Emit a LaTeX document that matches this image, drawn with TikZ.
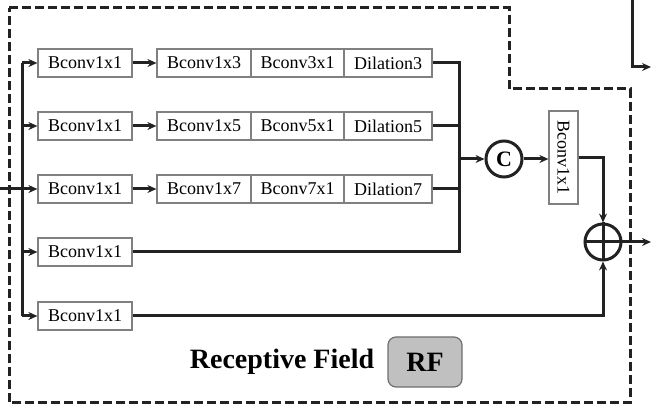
\documentclass[tikz,border=0pt]{standalone}
\usepackage{fontspec}
\setmainfont{Liberation Serif}
\usetikzlibrary{arrows.meta}
\definecolor{ink}{HTML}{222222}
\definecolor{boxline}{HTML}{808080}
\definecolor{rfgray}{HTML}{C0C0C0}
\definecolor{rfline}{HTML}{6E6E6E}
\begin{document}
\begin{tikzpicture}[x=1pt,y=-1pt,
  conv/.style={draw=boxline,line width=1.2pt,fill=white,minimum height=28pt,inner sep=0pt,font=\fontsize{18}{20}\selectfont},
  wire/.style={draw=ink,line width=3pt},
  tip/.style={-{Stealth[length=9pt,width=8pt,inset=3pt]}},
  arr/.style={wire,tip},
  opnode/.style={circle,draw=ink,line width=3pt,minimum size=36pt,inner sep=0pt},
  frame/.style={draw=ink,line width=3pt,dash pattern=on 9pt off 4pt}
]
\useasboundingbox (0,0) rectangle (651,411);
% frame
\draw[frame] (9,8) -- (509,8) -- (509,89) -- (630,89) -- (630,403) -- (9,403) -- cycle;
% boxes
\foreach \r/\y in {1/63,2/126,3/189,4/252,5/316}{
  \node[conv,minimum width=94pt] (A\r) at (85,\y) {Bconv1x1};
}
\foreach \r/\y/\k in {1/63/3,2/126/5,3/189/7}{
  \node[conv,minimum width=94pt] (B\r) at (204,\y) {Bconv1x\k};
  \node[conv,minimum width=93pt] (C\r) at (297.5,\y) {Bconv\k x1};
  \node[conv,minimum width=88pt] (D\r) at (388,\y) {Dilation\k};
}
\node[opnode,font=\fontsize{22}{24}\selectfont\bfseries] (cat) at (504,159) {C};
\node[conv,minimum width=93pt,minimum height=29pt,rotate=-90] (V) at (563.5,157.5) {Bconv1x1};
\node[opnode] (plus) at (603,242) {};
\draw[ink,line width=3pt] (plus.north) -- (plus.south) (plus.west) -- (plus.east);
% coordinates
\coordinate (in) at (0,189);
\coordinate (t1) at (22,63);
\coordinate (t3) at (22,189);
\coordinate (t5) at (22,316);
\coordinate (m1) at (459,63);
\coordinate (mc) at (459,159);
\coordinate (vr) at (603,157.5);
\coordinate (br) at (603,316);
\coordinate (out) at (651,242);
\coordinate (topin) at (632,0);
\coordinate (topc) at (632,67);
\coordinate (topout) at (651,67);
% trunk
\draw[wire] (in) -- (t3);
\draw[wire] (t1) -- (t5);
\foreach \r in {1,...,5}{
  \draw[arr] (t1 |- A\r) -- (A\r.west);
}
\foreach \r in {1,2,3}{
  \draw[arr] (A\r.east) -- (B\r.west);
}
% merge
\draw[wire] (D1.east) -- (m1) |- (A4.east);
\draw[wire] (D2.east) -- (m1 |- D2);
\draw[wire] (D3.east) -- (m1 |- D3);
\draw[arr] (mc) -- (cat.west);
\draw[arr] (cat.east) -- (cat.east -| V.south);
\draw[arr] (V.north |- vr) -- (vr) -- (plus.north);
\draw[arr] (A5.east) -- (br) -- (plus.south);
\draw[arr] (plus.east) -- (out);
\draw[arr] (topin) -- (topc) -- (topout);
% label
\node[font=\fontsize{28}{32}\selectfont\bfseries,inner sep=0pt] (lab) at (282,362) {Receptive Field};
\node[draw=rfline,line width=1.2pt,fill=rfgray,rounded corners=8pt,minimum width=74pt,minimum height=50pt,inner sep=0pt,font=\fontsize{28}{32}\selectfont\bfseries] (rf) at (425,362) {RF};
\end{tikzpicture}
\end{document}
